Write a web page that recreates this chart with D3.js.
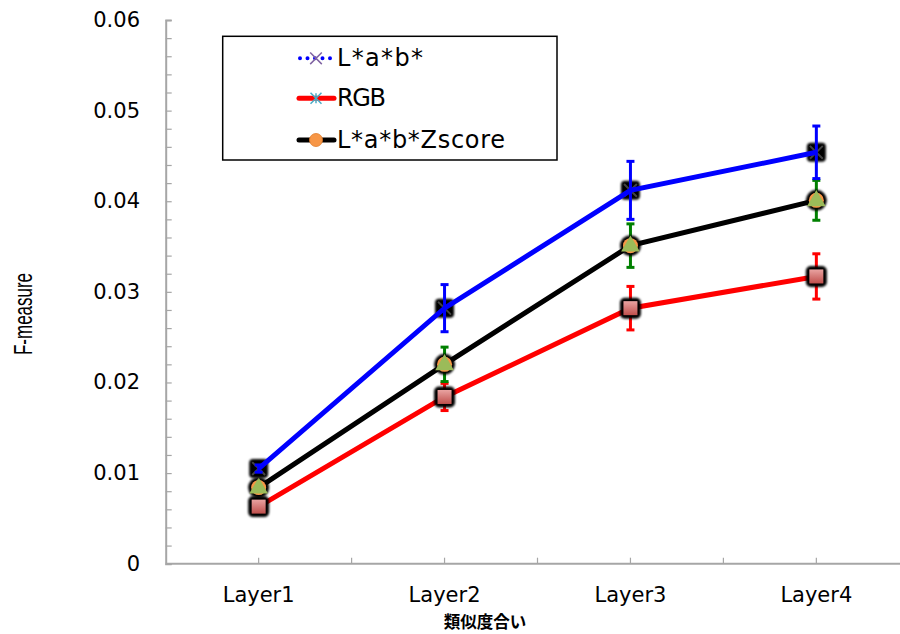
<!DOCTYPE html>
<html><head><meta charset="utf-8">
<script src="https://cdn.jsdelivr.net/npm/d3@7"></script>
<style>body{margin:0;background:#fff}svg{display:block}</style>
</head><body>
<svg id="c" width="900" height="634"></svg>
<script>
const categories = ["Layer1","Layer2","Layer3","Layer4"];
const labValues   = [0.0105, 0.0282, 0.0412, 0.0454];
const labErrors   = [0.0004, 0.0026, 0.0032, 0.0029];
const rgbValues   = [0.0063, 0.0184, 0.0282, 0.0317];
const rgbErrors   = [0.0004, 0.0015, 0.0024, 0.0025];
const zValues     = [0.0084, 0.0220, 0.0351, 0.0401];
const zErrors     = [0.0004, 0.0019, 0.0024, 0.0022];
const yMajorTicks = [0, 0.01, 0.02, 0.03, 0.04, 0.05, 0.06];
const yTickLabels = ["0","0.01","0.02","0.03","0.04","0.05","0.06"];
const legendLabels = ["L*a*b*","RGB","L*a*b*Zscore"];
const xTitle = "類似度合い";
const yTitle = "F-measure";

const svg = d3.select("#c");
const mLeft = 165.7, mTop = 20, mBottom = 563.7, step = 185.9;
const x = d3.scaleBand().domain(categories).range([mLeft, mLeft + step*categories.length]).padding(0);
const y = d3.scaleLinear().domain([0, 0.06]).range([mBottom, mTop]);
const cx = c => x(c) + x.bandwidth()/2;
const axisColor = "#a6a6a6";

// defs
const defs = svg.append("defs");
const f = defs.append("filter").attr("id","halo").attr("x","-50%").attr("y","-50%").attr("width","200%").attr("height","200%");
f.append("feGaussianBlur").attr("stdDeviation",0.8);
const g1 = defs.append("linearGradient").attr("id","redg").attr("x1",0).attr("y1",0).attr("x2",0).attr("y2",1);
g1.append("stop").attr("offset","0%").attr("stop-color","#e9a3a1");
g1.append("stop").attr("offset","100%").attr("stop-color","#c0504d");

// Y axis
const minorTicks = d3.range(0, 31).map(i => i*0.002);
const yAxis = d3.axisLeft(y).tickValues(minorTicks).tickSize(-6).tickFormat("");
const ya = svg.append("g").attr("transform",`translate(${mLeft},0)`).call(yAxis);
ya.select(".domain").attr("stroke",axisColor).attr("stroke-width",2);
ya.selectAll(".tick line").attr("stroke",axisColor).attr("stroke-width",1.2);
svg.append("g").selectAll("text").data(yMajorTicks).join("text")
  .attr("x", 140).attr("y", d => y(d)).attr("text-anchor","end").attr("dominant-baseline","central")
  .attr("font-family","DejaVu Sans").attr("font-size",21).attr("fill","#000")
  .text((d,i) => yTickLabels[i]);

// X axis
const xa = svg.append("g").attr("transform",`translate(0,${mBottom})`)
  .call(d3.axisBottom(x).tickSize(-6).tickFormat(""));
xa.select(".domain").remove();
svg.append("line").attr("x1",mLeft).attr("x2",mLeft+step*categories.length).attr("y1",mBottom).attr("y2",mBottom)
  .attr("stroke",axisColor).attr("stroke-width",2);
xa.selectAll(".tick line").attr("stroke",axisColor).attr("stroke-width",1.2);
svg.append("g").selectAll("line").data(categories).join("line")
  .attr("x1",d=> x(d) + step).attr("x2",d=> x(d) + step)
  .attr("y1",mBottom).attr("y2",mBottom-6).attr("stroke",axisColor).attr("stroke-width",1.2);
svg.append("g").selectAll("text").data(categories).join("text")
  .attr("x", d => cx(d)).attr("y", 595).attr("text-anchor","middle").attr("dominant-baseline","central")
  .attr("font-family","DejaVu Sans").attr("font-size",21).text(d => d);

svg.append("text").attr("x",485).attr("y",621).attr("text-anchor","middle").attr("dominant-baseline","central")
  .attr("font-family","Noto Sans CJK JP").attr("font-weight","bold").attr("font-size",16.5).text(xTitle);
svg.append("text").attr("transform","translate(23,314) rotate(-90)").attr("x",-41).attr("dominant-baseline","central")
  .attr("font-family","Liberation Sans").attr("font-size",25)
  .attr("textLength",82).attr("lengthAdjust","spacingAndGlyphs").text(yTitle);

const lineGen = vals => d3.line().x((d,i)=>cx(categories[i])).y(d=>y(d))(vals);

function errBars(vals, errs, color) {
  const g = svg.append("g").attr("stroke",color).attr("stroke-width",3);
  vals.forEach((v,i) => {
    const X = cx(categories[i]);
    g.append("line").attr("x1",X).attr("x2",X).attr("y1",y(v+errs[i])).attr("y2",y(v-errs[i]));
    [v+errs[i], v-errs[i]].forEach(e => g.append("line").attr("x1",X-4).attr("x2",X+4).attr("y1",y(e)).attr("y2",y(e)));
  });
}

// RGB series
svg.append("path").attr("d",lineGen(rgbValues)).attr("fill","none").attr("stroke","#ff0000").attr("stroke-width",5);
errBars(rgbValues, rgbErrors, "#ff0000");
rgbValues.forEach((v,i)=>{
  const X = cx(categories[i]), Y = y(v);
  svg.append("rect").attr("x",X-10.5).attr("y",Y-10.5).attr("width",21).attr("height",21).attr("rx",5).attr("fill","#000").attr("filter","url(#halo)");
  svg.append("rect").attr("x",X-7).attr("y",Y-7).attr("width",14).attr("height",14).attr("fill","url(#redg)");
});

// Zscore series
svg.append("path").attr("d",lineGen(zValues)).attr("fill","none").attr("stroke","#000").attr("stroke-width",5);
errBars(zValues, zErrors, "#008000");
zValues.forEach((v,i)=>{
  const X = cx(categories[i]), Y = y(v);
  svg.append("circle").attr("cx",X).attr("cy",Y).attr("r",10.5).attr("fill","#000").attr("filter","url(#halo)");
  svg.append("circle").attr("cx",X).attr("cy",Y).attr("r",7.5).attr("fill","#f79646");
  svg.append("path").attr("transform",`translate(${X},${Y+0.5})`).attr("d",d3.symbol(d3.symbolTriangle,150)()).attr("fill","#9bbb59");
});

// L*a*b* series
labValues.forEach((v,i)=>{
  const X = cx(categories[i]), Y = y(v);
  svg.append("rect").attr("x",X-9.5).attr("y",Y-9.5).attr("width",19).attr("height",19).attr("rx",4).attr("fill","#000").attr("filter","url(#halo)");
  svg.append("path").attr("transform",`translate(${X},${Y})`).attr("d",d3.symbol(d3.symbolTimes,110)()).attr("stroke","#444").attr("stroke-width",2).attr("fill","none");
});
svg.append("path").attr("d",lineGen(labValues)).attr("fill","none").attr("stroke","#0000ff").attr("stroke-width",5);
errBars(labValues, labErrors, "#0000ff");

// Legend
const lg = svg.append("g");
lg.append("rect").attr("x",222.7).attr("y",36.3).attr("width",334.3).attr("height",123.7).attr("fill","#fff").attr("stroke","#000").attr("stroke-width",1.5);
const rows = [58.3, 98.3, 140];
const legendWidths = [86, 49, 168];
lg.append("line").attr("x1",300).attr("x2",332).attr("y1",rows[0]).attr("y2",rows[0])
  .attr("stroke","#0000ff").attr("stroke-width",4).attr("stroke-linecap","round").attr("stroke-dasharray","0 7.5");
lg.append("path").attr("transform",`translate(316,${rows[0]})`).attr("d",d3.symbol(d3.symbolTimes,90)()).attr("stroke","#8064a2").attr("stroke-width",1.5).attr("fill","none");
lg.append("line").attr("x1",299).attr("x2",334).attr("y1",rows[1]).attr("y2",rows[1]).attr("stroke","#ff0000").attr("stroke-width",5).attr("stroke-linecap","round");
lg.append("path").attr("transform",`translate(316,${rows[1]})`).attr("d",d3.symbol(d3.symbolTimes,80)()).attr("stroke","#4bacc6").attr("stroke-width",1.5).attr("fill","none");
lg.append("line").attr("x1",316).attr("x2",316).attr("y1",rows[1]-5).attr("y2",rows[1]+5).attr("stroke","#4bacc6").attr("stroke-width",1.5);
lg.append("line").attr("x1",299).attr("x2",334).attr("y1",rows[2]).attr("y2",rows[2]).attr("stroke","#000").attr("stroke-width",5).attr("stroke-linecap","round");
lg.append("circle").attr("cx",316).attr("cy",rows[2]).attr("r",6.5).attr("fill","#f79646").attr("stroke","#e07b2a").attr("stroke-width",0.8);
lg.selectAll("text.l").data(legendLabels).join("text").attr("class","l")
  .attr("x",337).attr("y",(d,i)=>rows[i]).attr("dominant-baseline","central")
  .attr("font-family","DejaVu Sans").attr("font-size",24)
  .attr("textLength",(d,i)=>legendWidths[i]).attr("lengthAdjust","spacing").text(d=>d);
</script>
</body></html>
